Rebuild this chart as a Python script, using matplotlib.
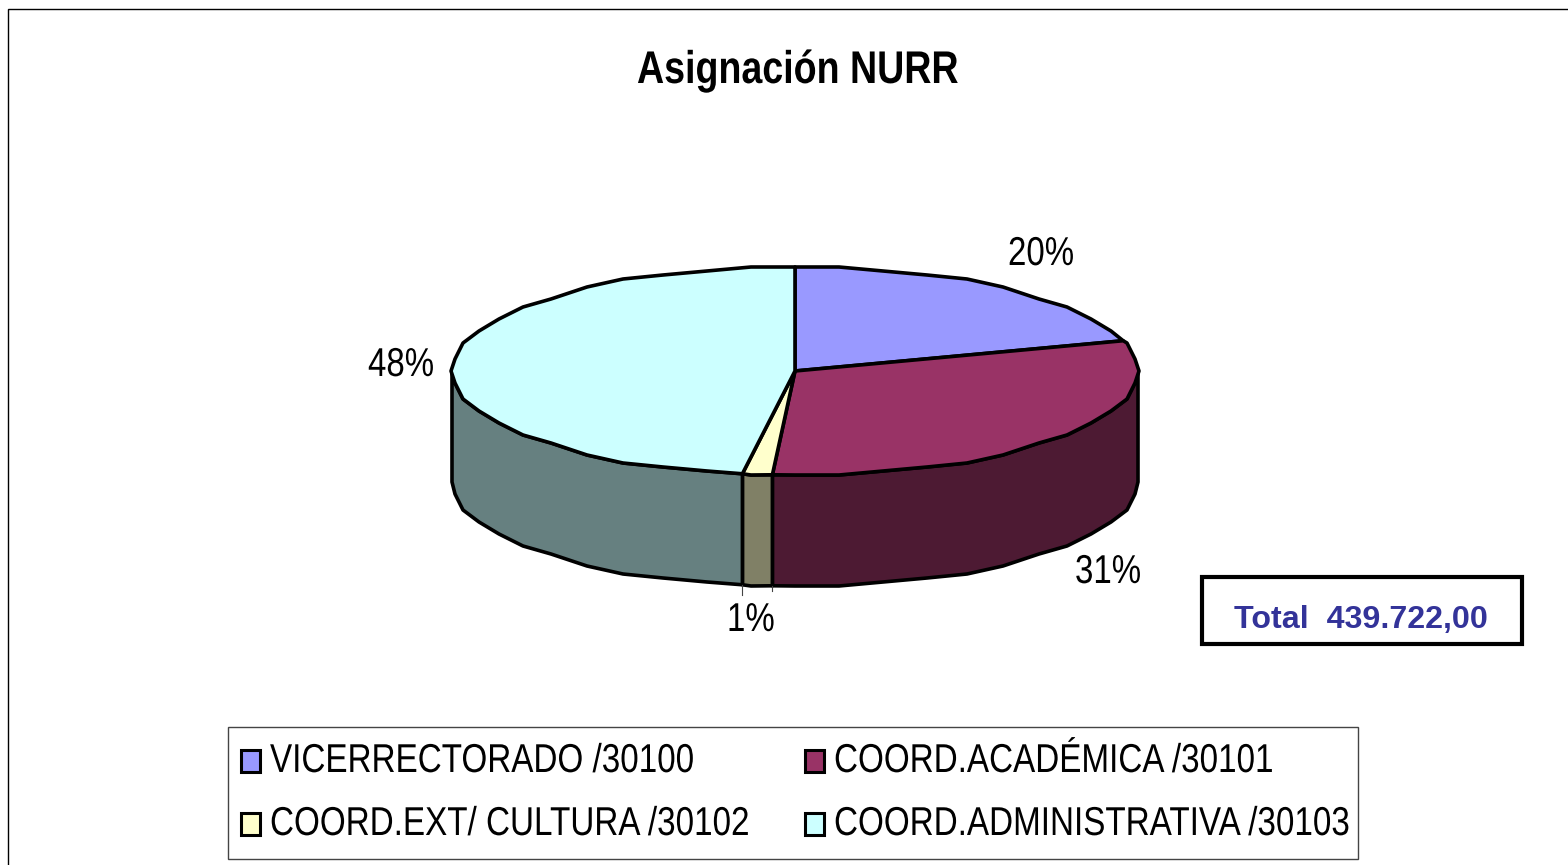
import numpy as np
import matplotlib
matplotlib.use('Agg')
from matplotlib import pyplot as plt
from matplotlib.patches import Polygon, Rectangle
from matplotlib.patheffects import AbstractPathEffect
from matplotlib.transforms import Affine2D

# datos
categorias = ['VICERRECTORADO /30100', 'COORD.ACADÉMICA /30101',
              'COORD.EXT/ CULTURA /30102', 'COORD.ADMINISTRATIVA /30103']
valores = [89264.0, 135215.0, 6156.0, 209087.0]
colores = ['#9999FF', '#993366', '#FFFFCC', '#CCFFFF']
colores_lado = ['#4D4D80', '#4D1A33', '#808066', '#668080']
titulo = 'Asignación NURR'
total = 'Total  439.722,00'

plt.rcParams['font.family'] = ['Liberation Sans', 'DejaVu Sans']


class Estrecho(AbstractPathEffect):
    # no hay Liberation Sans Narrow, se encoge el texto a lo ancho
    def __init__(self, sx):
        super().__init__()
        self.sx = sx

    def draw_path(self, renderer, gc, tpath, affine, rgbFace=None):
        renderer.draw_path(gc, tpath, Affine2D().scale(self.sx, 1) + affine, rgbFace)


narrow = [Estrecho(0.82)]
narrow_ley = [Estrecho(0.825)]

fig = plt.figure(figsize=(15.68, 8.65), dpi=100)
ax = fig.add_axes([0, 0, 1, 1])
ax.set_xlim(0, 1568)
ax.set_ylim(865, 0)
ax.axis('off')

# marco del grafico
ax.add_patch(Rectangle((8, 9), 1600, 900, fc='white', ec='black', lw=1))

cx, cy, rx, ry, alto = 795, 371, 343, 104, 111
paso = np.radians(7.5)


def elipse(a, b, dy=0):
    # de a hasta b en radianes, desde arriba y en sentido horario
    # las coordenadas van redondeadas para dar el borde quebrado del original
    t = np.arange(0, 2 * np.pi, paso)
    t = t[(t > a) & (t < b)]
    x = cx + np.round(rx * np.sin(t) / 4) * 4
    y = cy + np.round(-ry * np.cos(t) / 4) * 4 + dy
    medio = np.column_stack([x, y])
    # los extremos de cada porcion quedan sin redondear
    ini = [cx + rx * np.sin(a), cy - ry * np.cos(a) + dy]
    fin = [cx + rx * np.sin(b), cy - ry * np.cos(b) + dy]
    return np.vstack([ini, medio, fin])


pct = np.array(valores) / np.sum(valores)
bordes = np.concatenate([[0], np.cumsum(pct)]) * 2 * np.pi

# caras laterales (solo la parte de delante)
for i in range(len(valores)):
    a = max(bordes[i], np.pi / 2)
    b = min(bordes[i + 1], 3 * np.pi / 2)
    if a >= b:
        continue
    pts = np.vstack([elipse(a, b), elipse(a, b, alto)[::-1]])
    ax.add_patch(Polygon(pts, fc=colores_lado[i], ec='black', lw=2.6, joinstyle='round'))

# caras de arriba
for i in range(len(valores)):
    pts = np.vstack([[cx, cy], elipse(bordes[i], bordes[i + 1])])
    ax.add_patch(Polygon(pts, fc=colores[i], ec='black', lw=2.6, joinstyle='round'))

# lineas guia de la etiqueta 1%
for b, largo in zip(bordes[2:4], [5, 10]):
    p = elipse(b, b, alto)[0]
    ax.plot([p[0], p[0]], [p[1], p[1] + largo], color='#444444', lw=0.8)

# etiquetas de porcentaje
pos_etq = [(1008, 265), (1075, 583), (727, 631), (368, 376)]
for v, (x, y) in zip(pct, pos_etq):
    ax.text(x, y, '%d%%' % round(v * 100), ha='left', va='baseline', fontsize=29,
            color='black', path_effects=narrow)

ax.text(637, 83, titulo, ha='left', va='baseline', fontsize=33, fontweight='bold',
        path_effects=narrow)

# cuadro del total
ax.add_patch(Rectangle((1202, 577), 320, 67, fc='white', ec='black', lw=3))
ax.text(1361, 620, total, ha='center', va='center', fontsize=23.2, fontweight='bold',
        color='#333399')

# leyenda
ax.add_patch(Rectangle((228, 727), 1130, 132, fc='white', ec='#444444', lw=1))
pos_x = [241, 805, 241, 805]
pos_y = [760, 760, 823, 823]
for nom, col, x, y in zip(categorias, colores, pos_x, pos_y):
    ax.add_patch(Rectangle((x, y - 10), 19, 22, fc=col, ec='black', lw=2.2))
    ax.text(x + 29, y + 12, nom, ha='left', va='baseline', fontsize=29, color='black',
            path_effects=narrow_ley)

fig.savefig('out.png', dpi=100)
